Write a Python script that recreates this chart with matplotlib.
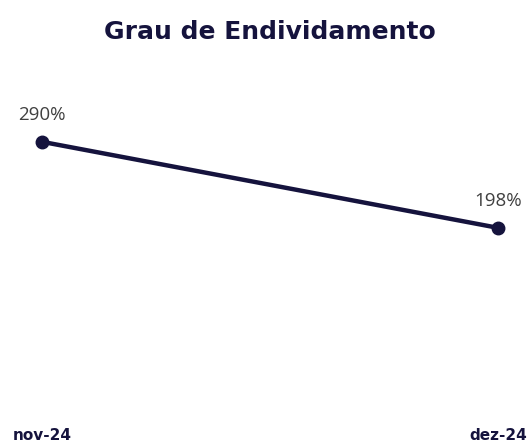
import matplotlib.pyplot as plt

# Data
months = ['nov-24', 'dez-24']
grau = [290, 198]
labels = ['290%', '198%']

navy = '#15133d'

fig = plt.figure(figsize=(5.29, 4.44), dpi=100)
ax = fig.add_axes([42 / 529, 31 / 444, 456 / 529, 0.674])

x = list(range(len(months)))
ax.plot(x, grau, color=navy, linewidth=3.2, marker='o', markersize=9, clip_on=False)

for xi, yi, lab in zip(x, grau, labels):
    ax.annotate(lab, (xi, yi), xytext=(0, 19), textcoords='offset points',
                ha='center', va='center', fontsize=13.5, color='#404040',
                family='Open Sans')

ax.set_xlim(0, 1)
ax.set_ylim(0, 320)
ax.set_xticks(x)
ax.set_xticklabels(months, fontsize=11, fontweight='bold', color=navy)
ax.tick_params(axis='x', length=0, pad=11)
ax.set_yticks([])
for s in ax.spines.values():
    s.set_visible(False)

fig.text(0.51, 0.928, 'Grau de Endividamento', ha='center', va='center',
         fontsize=18, fontweight='bold', color=navy)

fig.savefig('out.png', dpi=100)
